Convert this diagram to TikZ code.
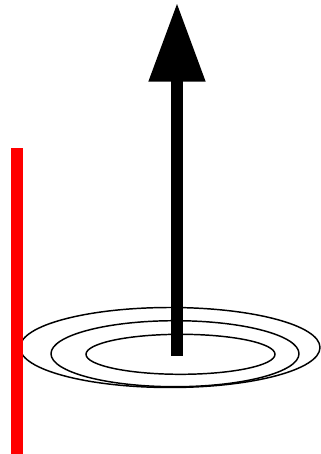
\documentclass[tikz,border=0pt]{standalone}
\begin{document}
\begin{tikzpicture}[x=0.75pt,y=-0.75pt,
  ring/.style={draw=black,line width=1.1pt},
  shaft/.style={draw=black,line width=9pt},
  head/.style={fill=black},
  redbar/.style={fill=red}]
\useasboundingbox (0,0) rectangle (321,454);
\draw[ring] (170,347.5) ellipse [x radius=150, y radius=40];
\draw[ring] (175,353.7) ellipse [x radius=124, y radius=33];
\draw[ring] (180.5,354.3) ellipse [x radius=94.5, y radius=20];
\coordinate (base) at (177,355.7);
\coordinate (neck) at (177,81);
\coordinate (tip) at (177,4);
\draw[shaft] (base) -- (neck);
\fill[head] (tip) -- (148.3,81.7) -- (205.7,81.7) -- cycle;
\fill[redbar] (11,148) rectangle (23,454);
\end{tikzpicture}
\end{document}
